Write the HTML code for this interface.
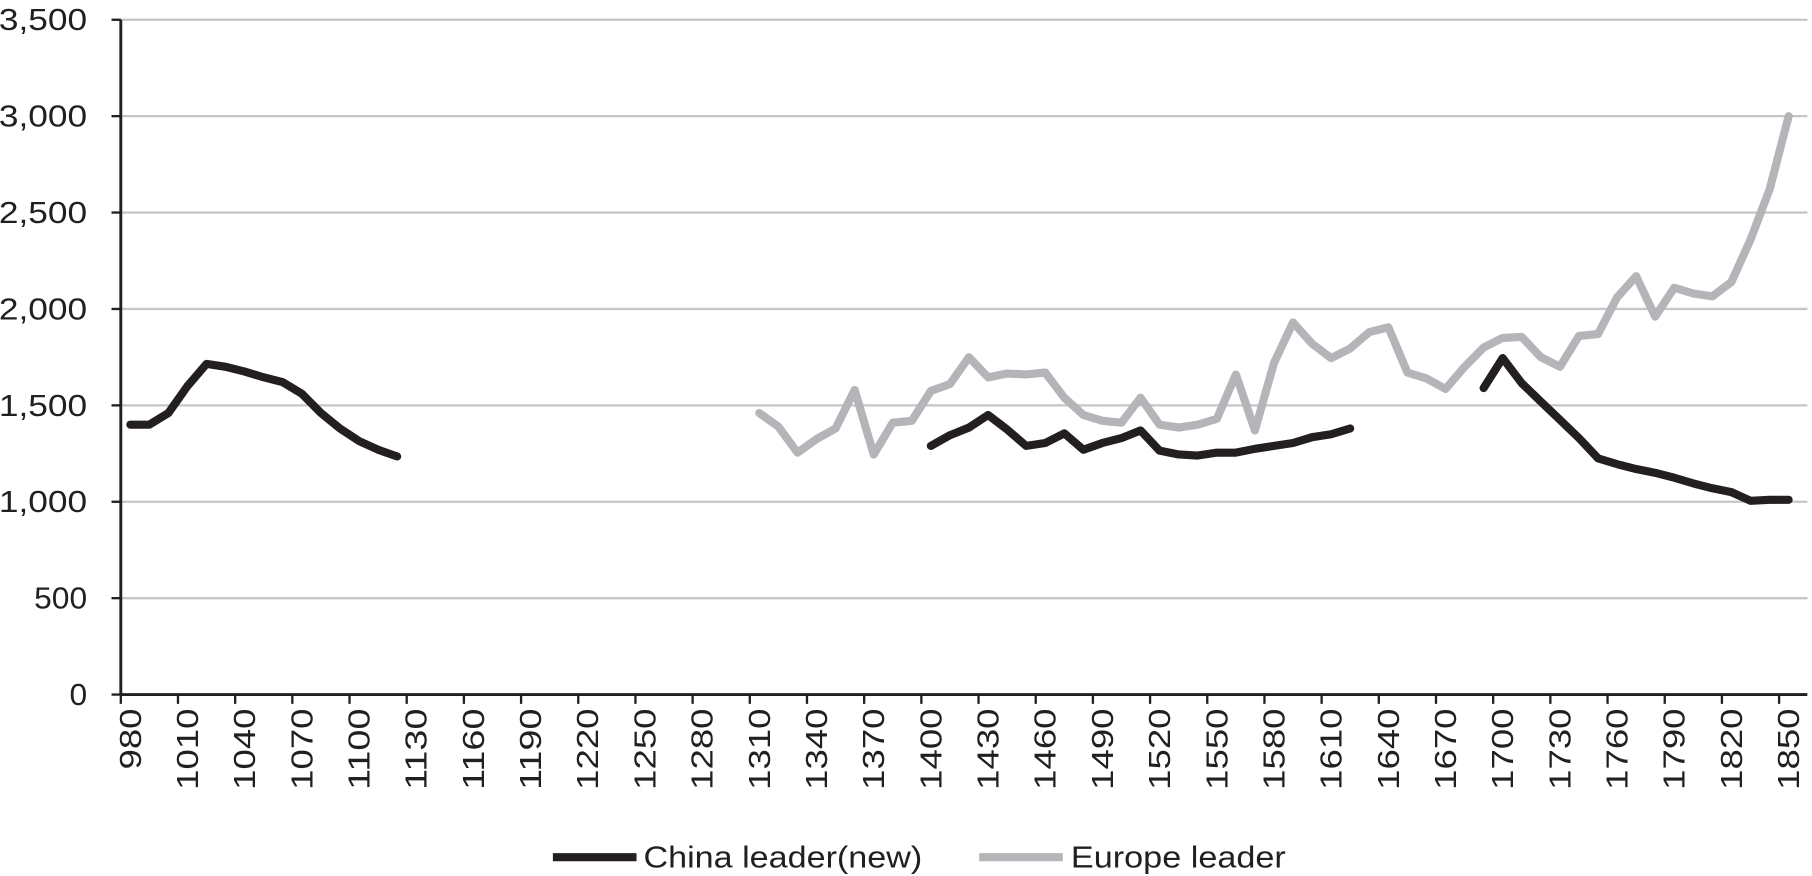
<!DOCTYPE html>
<html><head><meta charset="utf-8"><style>
html,body{margin:0;padding:0;background:#fff;}
svg{display:block;}
text{font-family:"Liberation Sans",sans-serif;fill:#231f20;}
</style></head><body>
<svg id="s" width="1812" height="876" viewBox="0 0 1560 754.2" preserveAspectRatio="none" xmlns="http://www.w3.org/2000/svg"></svg>
<script>
const s=document.getElementById('s');
const X0=104,CW=16.41,Y0=598,K=581/3500;
let h='';
for(let v=500;v<=3500;v+=500){const y=Y0-v*K;h+=`<line x1="104" x2="1556" y1="${y}" y2="${y}" stroke="#c6c6c6" stroke-width="2"/>`;}
for(let v=0;v<=3500;v+=500){const y=Y0-v*K;const t=v.toLocaleString('en-US');h+=`<line x1="96" x2="104" y1="${y}" y2="${y}" stroke="#231f20" stroke-width="2"/><text x="75" y="${y+9}" font-size="26" text-anchor="end" textLength="${t.length*15.2}" lengthAdjust="spacingAndGlyphs">${t}</text>`;}
h+=`<line x1="104" x2="104" y1="${Y0-3500*K}" y2="${Y0}" stroke="#231f20" stroke-width="2.5"/><line x1="104" x2="1556" y1="${Y0}" y2="${Y0}" stroke="#231f20" stroke-width="2.5"/>`;
for(let k=0;k<=29;k++){const x=X0+CW*3*k;h+=`<line x1="${x}" x2="${x}" y1="${Y0}" y2="${Y0+8}" stroke="#231f20" stroke-width="2"/>`;
 const yr=980+30*k;if(yr<=1850){const cx=X0+CW*(3*k+0.5);const L=String(yr).length*17.5;h+=`<text transform="translate(${cx+9},${Y0+12+L}) rotate(-90)" font-size="26" text-anchor="start" textLength="${L}" lengthAdjust="spacingAndGlyphs">${yr}</text>`;}}
function path(start,vals,col){let d='';vals.forEach((v,i)=>{const yr=start+10*i;const x=X0+CW*((yr-980)/10+0.5);d+=(i?'L':'M')+x.toFixed(1)+' '+(Y0-v*K).toFixed(1);});return `<path d="${d}" fill="none" stroke="${col}" stroke-width="7" stroke-linejoin="round" stroke-linecap="round"/>`;}
h+=path(1310,[1460,1390,1255,1325,1380,1580,1245,1410,1420,1575,1610,1750,1645,1665,1660,1670,1540,1450,1420,1410,1540,1400,1385,1400,1430,1660,1370,1720,1930,1820,1745,1795,1880,1905,1670,1640,1585,1700,1800,1850,1855,1750,1700,1860,1870,2060,2170,1960,2110,2080,2065,2140,2360,2620,3000],'#b4b5b8');
h+=path(980,[1400,1400,1460,1600,1715,1700,1675,1645,1620,1560,1460,1380,1315,1270,1235],'#231f20');
h+=path(1400,[1290,1345,1385,1450,1375,1290,1305,1355,1270,1305,1330,1370,1265,1245,1240,1255,1255,1275,1290,1305,1335,1350,1380],'#231f20');
h+=path(1690,[1590,1745,1615,1520,1425,1330,1225,1195,1170,1150,1125,1095,1070,1050,1005,1010,1010],'#231f20');
h+=`<line x1="476" x2="548" y1="738" y2="738" stroke="#231f20" stroke-width="7"/><text x="554" y="747" font-size="26" textLength="240" lengthAdjust="spacingAndGlyphs">China leader(new)</text>`;
h+=`<line x1="843" x2="915" y1="738" y2="738" stroke="#b4b5b8" stroke-width="7"/><text x="922" y="747" font-size="26" textLength="185" lengthAdjust="spacingAndGlyphs">Europe leader</text>`;
s.innerHTML=h;
</script>
</body></html>
